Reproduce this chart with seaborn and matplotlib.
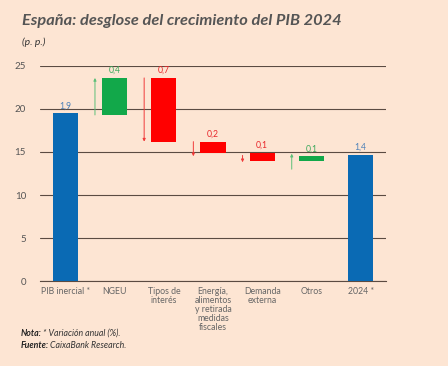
import numpy as np
import pandas as pd
import matplotlib.pyplot as plt
import seaborn as sns

# waterfall pieces (axis is in tenths of a point, as on the original)
categories = ["PIB inercial *", "NGEU", "Tipos de\ninterés",
              "Energía,\nalimentos\ny retirada\nmedidas\nfiscales",
              "Demanda\nexterna", "Otros", "2024 *"]
bar_low = [0, 19.3, 16.2, 14.85, 13.9, 13.9, 0]
bar_high = [19.5, 23.6, 23.6, 16.2, 14.9, 14.5, 14.65]
value_labels = ["1,9", "0,4", "0,7", "0,2", "0,1", "0,1", "1,4"]
kinds = ["total", "up", "down", "down", "down", "up", "total"]
# arrows next to the change bars (start, end)
arrow_from = [None, 19.3, 23.6, 16.2, 14.6, 13.0, None]
arrow_to = [None, 23.6, 16.2, 14.5, 13.8, 14.8, None]

BG = "#fde5d3"
COLORS = {"total": "#0a6ab4", "up": "#12a84a", "down": "#ff0000"}
LABEL_COLORS = {"total": "#4f82b8", "up": "#3aa85a", "down": "#e8262a"}
ARROW_COLORS = {"up": "#5cbf78", "down": "#f03a3a"}

df = pd.DataFrame({"cat": categories,
                   "height": np.array(bar_high) - np.array(bar_low),
                   "low": bar_low, "kind": kinds})

sns.set_style("white")
plt.rcParams["font.family"] = ["Lato", "DejaVu Sans"]

fig = plt.figure(figsize=(4.48, 3.66), dpi=100, facecolor=BG)
ax = fig.add_axes([0.089, 0.232, 0.773, 0.588])
ax.set_facecolor(BG)

sns.barplot(data=df, x="cat", y="height", bottom=df["low"].values,
            color=COLORS["total"], width=0.51, saturation=1, ax=ax, zorder=3)
for patch, k in zip(ax.patches, kinds):
    patch.set_facecolor(COLORS[k])
    patch.set_edgecolor("none")

for i, (hi, lab, k) in enumerate(zip(bar_high, value_labels, kinds)):
    ax.text(i, hi + 0.35, lab, ha="center", va="bottom", fontsize=6.2,
            color=LABEL_COLORS[k])
    if arrow_from[i] is not None:
        ax.annotate("", xy=(i - 0.4, arrow_to[i]), xytext=(i - 0.4, arrow_from[i]),
                    arrowprops=dict(arrowstyle="-|>", color=ARROW_COLORS[k], lw=0.7,
                                    mutation_scale=4, shrinkA=0, shrinkB=0))

ax.set_ylim(0, 25)
ax.set_xlim(-0.52, 6.52)
ax.set_yticks([0, 5, 10, 15, 20, 25])
ax.yaxis.grid(True, color="#5b4b42", lw=0.8, zorder=0)
ax.set_axisbelow(True)
for s in ["top", "right", "left"]:
    ax.spines[s].set_visible(False)
ax.spines["bottom"].set_color("#5b4b42")
ax.spines["bottom"].set_linewidth(0.8)

ax.set_xticks(range(len(categories)))
ax.set_xticklabels(categories, fontsize=6.3, color="#666666", linespacing=1.0)
ax.set_xticks(np.arange(-0.5, 7, 1), minor=True)
ax.tick_params(axis="x", which="major", length=0, pad=4)
ax.tick_params(axis="x", which="minor", length=3, color="#5b4b42", width=0.6)
ax.tick_params(axis="y", length=0, labelsize=7, labelcolor="#555555", pad=10)
ax.set_xlabel("")
ax.set_ylabel("")

fig.text(0.049, 0.932, "España: desglose del crecimiento del PIB 2024",
         fontsize=11.8, fontweight="bold", fontstyle="italic", color="#555555")
fig.text(0.049, 0.878, "(p. p.)", fontsize=7.5, fontstyle="italic", color="#333333")

# note lines: bold lead-in followed by italic text
renderer = fig.canvas.get_renderer()
for y, lead, rest in [(0.082, "Nota:", " * Variación anual (%)."),
                      (0.050, "Fuente:", " CaixaBank Research.")]:
    t = fig.text(0.045, y, lead, fontsize=6.3, fontweight="bold",
                 fontstyle="italic", color="#222222")
    x1 = t.get_window_extent(renderer).x1 / fig.bbox.width
    fig.text(x1, y, rest, fontsize=6.3, fontstyle="italic", color="#333333")

fig.savefig("out.png", dpi=100, facecolor=BG)
